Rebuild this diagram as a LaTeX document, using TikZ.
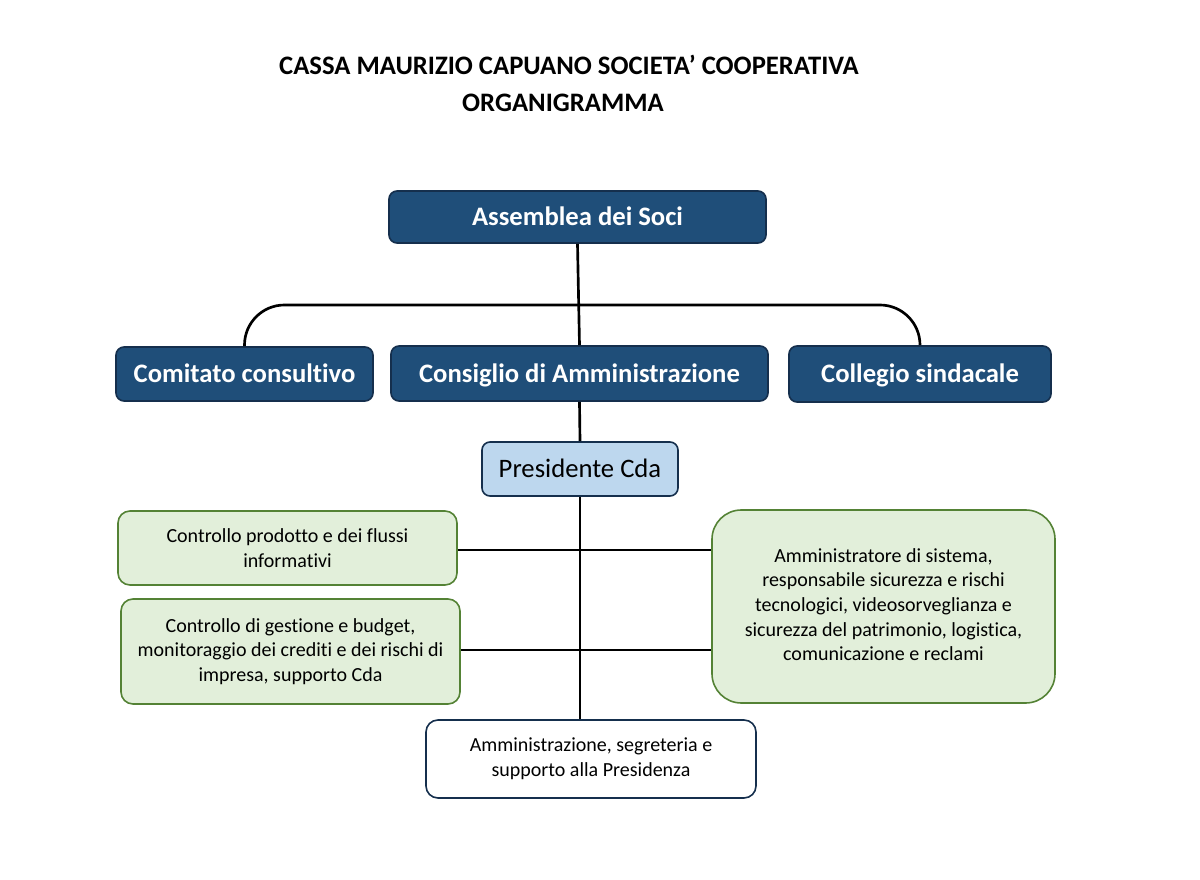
\documentclass[tikz,border=0pt]{standalone}
\usepackage{fontspec}
\setmainfont[Ligatures=NoCommon]{Carlito}
\definecolor{navy}{HTML}{1F4E79}
\definecolor{navyline}{HTML}{152F4D}
\definecolor{lightblue}{HTML}{BDD7EE}
\definecolor{greenfill}{HTML}{E2EFDA}
\definecolor{greenline}{HTML}{548235}
\tikzset{
  darkbox/.style={draw=navyline, line width=1.2pt, fill=navy, text=white, rounded corners=6pt, font=\fontsize{20}{24}\selectfont\bfseries, inner sep=0pt, text height=14.5pt, text depth=1.5pt},
  presbox/.style={draw=navyline, line width=1.2pt, fill=lightblue, rounded corners=6pt, font=\fontsize{20}{24}\selectfont, inner sep=0pt, text height=14.5pt, text depth=1.5pt},
  greenbox/.style={draw=greenline, line width=1.2pt, fill=greenfill, rounded corners=9pt, font=\fontsize{15}{18.5}\selectfont, align=center, inner sep=0pt},
  whitebox/.style={draw=navyline, line width=1.2pt, fill=white, rounded corners=9pt, font=\fontsize{15}{18.5}\selectfont, align=center, inner sep=0pt},
  conn/.style={line width=2pt, black},
  titletext/.style={font=\fontsize{20}{24}\selectfont\bfseries}
}
\begin{document}
\begin{tikzpicture}[x=0.75pt,y=-0.75pt]
\useasboundingbox (0,0) rectangle (1200,880);
\node[titletext] (t1) at (569,65) {CASSA MAURIZIO CAPUANO SOCIETA’ COOPERATIVA};
\node[titletext] (t2) at (563,103) {ORGANIGRAMMA};

\node[darkbox, minimum width=282.75pt, minimum height=39pt] (ass) at (577.5,217) {Assemblea dei Soci};
\node[darkbox, minimum width=192.75pt, minimum height=40.5pt] (com) at (244.5,374) {Comitato consultivo};
\node[darkbox, minimum width=282.75pt, minimum height=41.25pt] (cda) at (579.5,373.5) {Consiglio di Amministrazione};
\node[darkbox, minimum width=196.5pt, minimum height=42pt] (col) at (920,374) {Collegio sindacale};
\node[presbox, minimum width=147pt, minimum height=40.5pt] (pres) at (580,469) {Presidente Cda};

\node[greenbox, minimum width=254.25pt, minimum height=55.5pt] (cp) at (287.5,548) {Controllo prodotto e dei flussi\\informativi};
\node[greenbox, minimum width=254.25pt, minimum height=78.75pt] (cg) at (290.5,651.5) {Controllo di gestione e budget,\\monitoraggio dei crediti e dei rischi di\\impresa, supporto Cda};
\node[greenbox, rounded corners=22pt, minimum width=257.25pt, minimum height=144.75pt] (as) at (883.5,606.5) {\raisebox{3pt}{\begin{tabular}{@{}c@{}}Amministratore di sistema,\\responsabile sicurezza e rischi\\tecnologici, videosorveglianza e\\sicurezza del patrimonio, logistica,\\comunicazione e reclami\end{tabular}}};
\node[whitebox, minimum width=247.5pt, minimum height=58.5pt] (seg) at (591,759) {Amministrazione, segreteria e\\supporto alla Presidenza};

\draw[conn] (ass.south) -- (cda.north);
\draw[conn, rounded corners=30pt] (com.north) |- (577,305) -| (col.north);
\draw[conn] (cda.south) -- (pres.north);
\draw[conn] (pres.south) -- (seg.north -| pres.south);
\draw[conn, line width=1.5pt] (cp.east |- 0,550) -- (as.west |- 0,550);
\draw[conn, line width=1.5pt] (cg.east |- 0,650) -- (as.west |- 0,650);
\end{tikzpicture}
\end{document}
